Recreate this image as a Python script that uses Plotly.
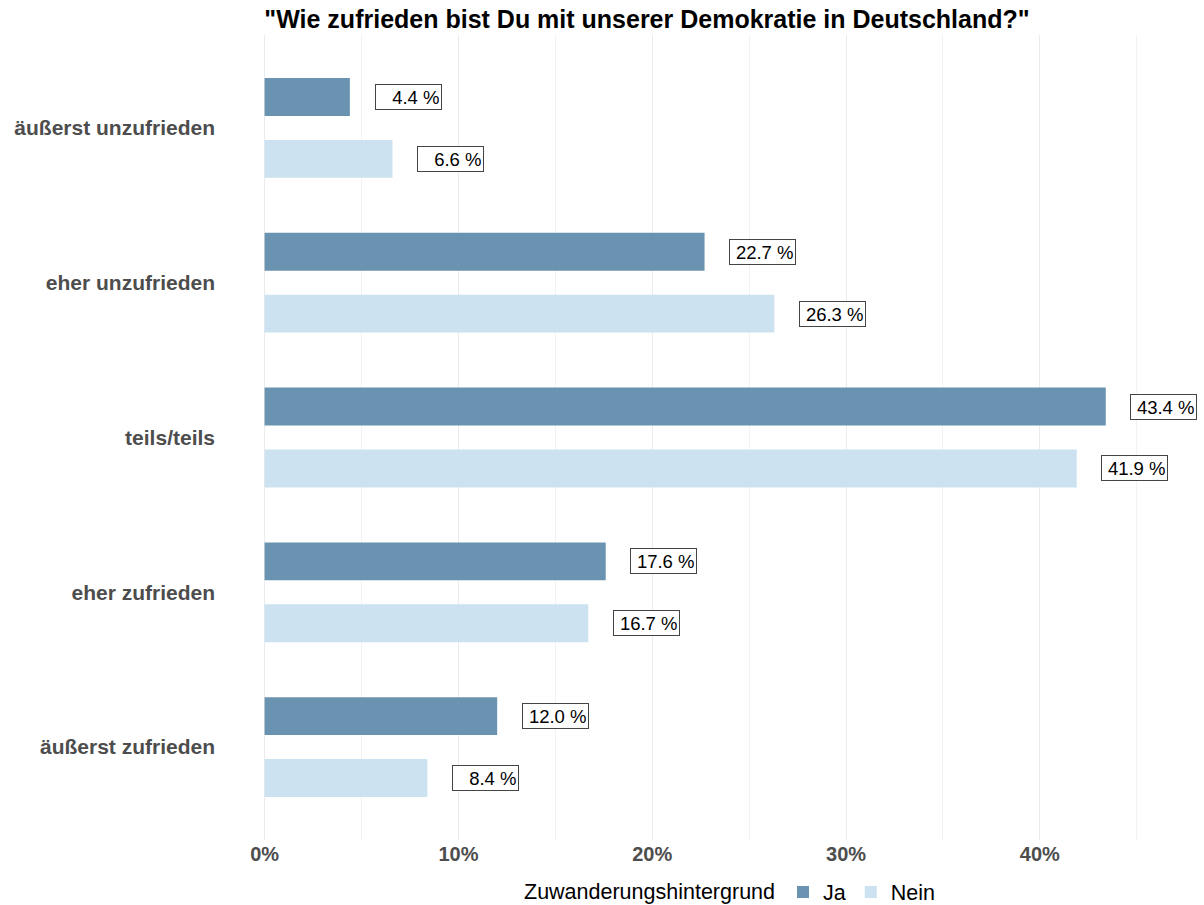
import plotly.graph_objects as go

# Survey answers (top to bottom) and shares in percent per group
kategorien = ["äußerst unzufrieden", "eher unzufrieden", "teils/teils",
              "eher zufrieden", "äußerst zufrieden"]
ja_werte = [4.4, 22.7, 43.4, 17.6, 12.0]
nein_werte = [6.6, 26.3, 41.9, 16.7, 8.4]
gruppen = ["Ja", "Nein"]
farben = {"Ja": "#6993b0", "Nein": "#cce2f0"}
x_ticks = [0, 10, 20, 30, 40]

titel = '"Wie zufrieden bist Du mit unserer Demokratie in Deutschland?"'
legenden_titel = "Zuwanderungshintergrund"

FONT = "Liberation Sans, Arial, sans-serif"

positionen = list(range(len(kategorien)))
versatz = {"Ja": -0.2, "Nein": 0.2}
werte = {"Ja": ja_werte, "Nein": nein_werte}

fig = go.Figure()
for g in gruppen:
    fig.add_trace(go.Bar(
        x=werte[g],
        y=[p + versatz[g] for p in positionen],
        orientation="h",
        width=0.245,
        name=g,
        marker=dict(color=farben[g], line=dict(width=0)),
        hoverinfo="x+name",
    ))

# boxed value labels placed just right of each bar
for g in gruppen:
    for p, v in zip(positionen, werte[g]):
        fig.add_annotation(
            x=v + 3, y=p + versatz[g], xref="x", yref="y",
            text=f"{v:.1f} %", showarrow=False,
            xanchor="center", yanchor="middle",
            width=62, align="right",
            font=dict(family=FONT, size=18.5, color="#000000"),
            bgcolor="#ffffff", bordercolor="#444444", borderwidth=1, borderpad=1.5,
        )

fig.update_layout(
    width=1204, height=905,
    paper_bgcolor="#ffffff", plot_bgcolor="#ffffff",
    margin=dict(l=220, r=11, t=35, b=65, autoexpand=False),
    barmode="overlay",
    title=dict(
        text=f"<b>{titel}</b>",
        x=647 / 1204, xanchor="center", xref="container",
        y=1 - 19 / 905, yanchor="middle", yref="container",
        font=dict(family=FONT, size=25, color="#000000"),
    ),
    xaxis=dict(
        range=[-2.3, 47.9],
        tickvals=x_ticks,
        ticktext=[f"<b>{t}%</b>" for t in x_ticks],
        showgrid=True, gridcolor="#ebebeb", gridwidth=1,
        minor=dict(dtick=5, tick0=0, showgrid=True, gridcolor="#f2f2f2", gridwidth=1),
        zeroline=False, showline=False, ticks="",
        ticklabelstandoff=0,
        automargin=False,
        tickfont=dict(family=FONT, size=20, color="#4d4d4d"),
        fixedrange=True,
    ),
    yaxis=dict(
        range=[4.6, -0.6],
        tickvals=positionen,
        ticktext=[f"<b>{k}</b>" for k in kategorien],
        showgrid=False, zeroline=False, showline=False, ticks="",
        ticklabelstandoff=4,
        automargin=False,
        tickfont=dict(family=FONT, size=21, color="#4d4d4d"),
        fixedrange=True,
    ),
    legend=dict(
        orientation="h",
        title=dict(text=legenden_titel, side="left",
                   font=dict(family=FONT, size=21.5, color="#000000")),
        font=dict(family=FONT, size=21.5, color="#000000"),
        xref="container", yref="container",
        x=731 / 1204, xanchor="center",
        y=1 - 892 / 905, yanchor="middle",
        traceorder="normal",
        itemwidth=30,
    ),
)

fig.write_html("out.html")
